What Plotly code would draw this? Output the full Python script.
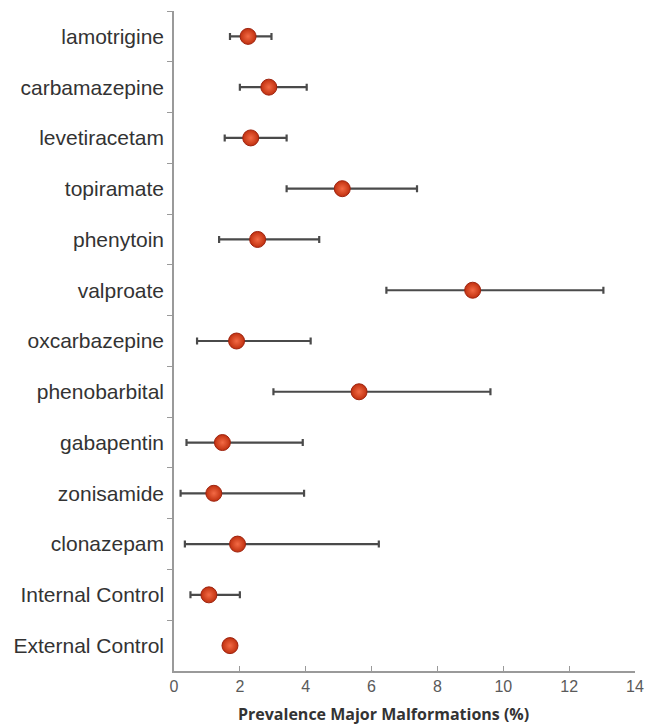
import plotly.graph_objects as go

drugs = ["lamotrigine", "carbamazepine", "levetiracetam", "topiramate", "phenytoin",
         "valproate", "oxcarbazepine", "phenobarbital", "gabapentin", "zonisamide",
         "clonazepam", "Internal Control", "External Control"]
prevalence = [2.25, 2.88, 2.33, 5.11, 2.54, 9.07, 1.90, 5.62, 1.47, 1.21, 1.93, 1.06, 1.70]
ci_low = [1.70, 2.00, 1.54, 3.42, 1.37, 6.45, 0.70, 3.02, 0.38, 0.20, 0.33, 0.50, None]
ci_high = [2.96, 4.03, 3.42, 7.38, 4.41, 13.04, 4.15, 9.61, 3.91, 3.95, 6.22, 2.00, None]
x_ticks = [0, 2, 4, 6, 8, 10, 12, 14]
x_title = "Prevalence Major Malformations (%)"

has_ci = [l is not None for l in ci_low]
x_ci = [p for p, c in zip(prevalence, has_ci) if c]
y_ci = [d for d, c in zip(drugs, has_ci) if c]
ep = [h - p for h, p, c in zip(ci_high, prevalence, has_ci) if c]
em = [p - l for l, p, c in zip(ci_low, prevalence, has_ci) if c]

fig = go.Figure()
fig.add_trace(go.Scatter(
    x=x_ci, y=y_ci, mode="markers",
    marker=dict(size=0.1, color="rgba(0,0,0,0)"),
    error_x=dict(type="data", symmetric=False, array=ep, arrayminus=em,
                 color="#4a4a4a", thickness=2.2, width=3.5),
    hoverinfo="skip", showlegend=False,
))
fig.add_trace(go.Scatter(
    x=prevalence, y=drugs, mode="markers",
    marker=dict(size=16, color="#c0300f",
                gradient=dict(type="radial", color="#f36a45"),
                line=dict(color="#9e2410", width=1)),
    showlegend=False,
))

fig.update_layout(
    width=645, height=727,
    margin=dict(l=174, r=10, t=11, b=56, autoexpand=False),
    paper_bgcolor="white", plot_bgcolor="white",
    font=dict(family="Liberation Sans, Arial, sans-serif", color="#333333"),
    annotations=[dict(
        text="<b>" + x_title + "</b>", xref="paper", yref="paper",
        x=0.4555, y=-0.0655, xanchor="center", yanchor="middle", showarrow=False,
        font=dict(family="Open Sans, sans-serif", size=16, color="#333333"),
    )],
)
fig.update_xaxes(
    range=[0, 14], tickvals=x_ticks, automargin=False,
    showgrid=False, zeroline=False,
    showline=True, linecolor="#9a9a9a", linewidth=1.5,
    ticks="inside", ticklen=5, tickcolor="#9a9a9a",
    tickfont=dict(size=16, color="#5a5a5a"),
)
fig.update_yaxes(
    type="category", categoryorder="array", categoryarray=drugs,
    range=[12.5, -0.5], automargin=False,
    showgrid=False, zeroline=False,
    showline=True, linecolor="#9a9a9a", linewidth=1.5,
    ticks="outside", tickson="boundaries", ticklen=5, tickcolor="#9a9a9a",
    tickfont=dict(size=21, color="#333333"),
    ticklabelstandoff=4,
)

fig.write_html("out.html", config={"displayModeBar": False},
               post_script="document.body.style.margin='0';document.body.style.overflow='hidden';")
